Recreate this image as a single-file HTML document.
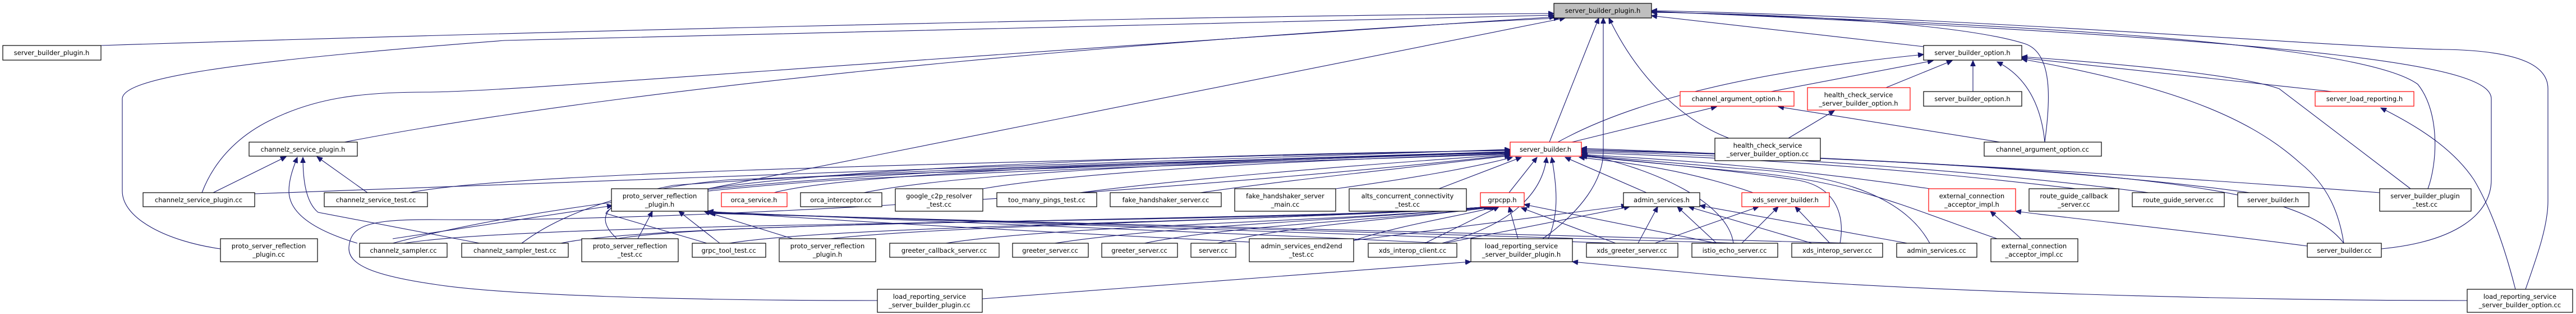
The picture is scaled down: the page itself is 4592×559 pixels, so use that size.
<!DOCTYPE html>
<html><head><meta charset="utf-8">
<style>
html,body{margin:0;padding:0;background:#fff;}
svg{display:block;}
text{font-family:"DejaVu Sans","Liberation Sans",sans-serif;font-size:11.5px;fill:#000;text-anchor:middle;}
.e{fill:none;stroke:#191970;stroke-width:1.1;marker-end:url(#a);}
.n{fill:#fff;stroke:#000;stroke-width:1.2;}
.r{fill:#fff;stroke:#ff0000;stroke-width:1.2;}
</style></head><body>
<svg width="4592" height="559" viewBox="0 0 4592 559" xmlns="http://www.w3.org/2000/svg">
<defs><marker id="a" markerUnits="userSpaceOnUse" markerWidth="11" markerHeight="9" refX="10" refY="4.5" orient="auto"><path d="M0,0 L10,4.5 L0,9 z" fill="#191970" stroke="#191970"/></marker></defs>

<!-- edges to root -->
<path class="e" d="M180,81 C800,61 2000,29 2770,24"/>
<path class="e" d="M393,443 C300,430 218,390 218,340 L218,176 C218,140 400,110 900,72 L2770,27"/>
<path class="e" d="M360,343 C380,290 420,245 480,215 C560,175 640,164 760,164 C900,164 1400,120 2772,30"/>
<path class="e" d="M614,253 C1200,140 2200,60 2780,32"/>
<path class="e" d="M1262,336 L2790,32"/>
<path class="e" d="M2762,253 L2850,32"/>
<path class="e" d="M2750,425 C2820,375 2858,320 2858,270 L2858,32"/>
<path class="e" d="M3429,83 L2944,28"/>
<path class="e" d="M3082,246 C3000,215 2920,140 2868,32"/>
<path class="e" d="M3645,253 C3655,180 3660,95 3610,78 C3500,43 3200,25 2944,22"/>
<path class="e" d="M4328,336 C4345,290 4350,200 4310,150 C4200,70 3500,40 2944,21"/>
<path class="e" d="M4245,443 C4380,430 4441,380 4441,320 L4441,176 C4441,120 4200,75 2944,20"/>
<path class="e" d="M4502,515 C4525,450 4542,400 4542,358 L4542,158 C4542,120 4500,90 4355,88 C4200,86 3500,30 2944,19"/>

<!-- edges to server_builder_option.h -->
<path class="e" d="M2777,253 C2900,185 3100,130 3429,97"/>
<path class="e" d="M3157,163 L3446,108"/>
<path class="e" d="M3362,156 L3480,108"/>
<path class="e" d="M3517,163 L3517,108"/>
<path class="e" d="M3645,253 C3640,200 3620,140 3560,110"/>
<path class="e" d="M4297,336 L4063,158 C4000,135 3800,115 3604,101"/>
<path class="e" d="M4157,163 L3604,103"/>
<path class="e" d="M4178,433 C4170,380 4150,330 4100,290 C4000,200 3850,150 3604,105"/>

<!-- others upper -->
<path class="e" d="M2802,253 L3060,190"/>
<path class="e" d="M3565,253 L3170,190"/>
<path class="e" d="M3188,246 L3270,197"/>
<path class="e" d="M4484,515 C4465,440 4440,370 4410,320 C4370,260 4300,220 4244,192"/>
<path class="e" d="M1751,532 L2622,466"/>
<path class="e" d="M4398,535 C4000,535 3400,520 3040,488 L2803,466"/>
<path class="e" d="M1564,535 C1200,535 900,525 780,507 C660,490 620,470 622,440 C625,400 660,390 780,391 C1300,395 2200,330 2692,276"/>

<!-- channelz_service_plugin.h -->
<path class="e" d="M380,343 L510,279"/>
<path class="e" d="M655,343 L565,279"/>
<path class="e" d="M637,433 C560,410 515,380 515,340 C515,320 522,300 530,280"/>
<path class="e" d="M855,433 L567,378 C545,360 540,320 540,280"/>

<!-- row1 -> server_builder.h -->
<path class="e" d="M454,345 C1000,320 2000,290 2692,266"/>
<path class="e" d="M730,343 C900,310 1500,295 2692,267"/>
<path class="e" d="M1262,336 C1500,300 2100,275 2692,268"/>
<path class="e" d="M1380,343 C1500,310 2000,290 2692,270"/>
<path class="e" d="M1540,343 C1700,310 2100,290 2692,271"/>
<path class="e" d="M1752,336 C1900,310 2200,290 2692,273"/>
<path class="e" d="M1925,343 C2100,320 2400,295 2692,275"/>
<path class="e" d="M2140,343 C2300,320 2500,300 2692,277"/>
<path class="e" d="M2381,336 C2500,320 2620,300 2696,280"/>
<path class="e" d="M2565,336 L2712,280"/>
<path class="e" d="M2690,343 L2740,280"/>
<path class="e" d="M2935,343 L2790,280"/>
<path class="e" d="M3125,343 C3000,300 2900,290 2815,280"/>
<path class="e" d="M3440,336 C3200,300 3000,285 2819,275"/>
<path class="e" d="M3700,336 C3400,300 3100,280 2819,272"/>
<path class="e" d="M3830,343 C3500,300 3100,275 2819,270"/>
<path class="e" d="M4010,343 C3700,300 3200,275 2819,268"/>
<path class="e" d="M4242,343 C3800,310 3300,280 2819,266"/>
<path class="e" d="M4178,433 C4100,330 3800,300 2819,264"/>

<!-- row2 -> server_builder.h -->
<path class="e" d="M700,433 C900,380 1200,340 1500,320 C2000,295 2400,285 2692,274"/>
<path class="e" d="M930,433 C1000,380 1100,350 1200,330 C1600,300 2200,285 2692,272"/>
<path class="e" d="M1100,425 C1050,380 1080,340 1300,320 C1800,300 2300,285 2692,271"/>
<path class="e" d="M1260,433 L1080,380 C1090,350 1300,325 1800,300 L2692,270"/>
<path class="e" d="M2570,433 C2700,400 2750,340 2757,280"/>
<path class="e" d="M2760,425 C2780,380 2775,330 2766,280"/>
<path class="e" d="M3090,433 C3080,360 2950,300 2820,274"/>
<path class="e" d="M3280,433 C3290,380 3270,330 3200,320 C3100,305 2950,290 2819,277"/>
<path class="e" d="M3440,433 C3400,360 3300,310 3100,300 L2819,276"/>
<path class="e" d="M3560,425 C3400,370 3300,320 3100,305 L2819,278"/>

<!-- row2 -> grpcpp.h -->
<path class="e" d="M720,433 C1000,390 2300,400 2655,368"/>
<path class="e" d="M1000,433 C1200,390 2300,395 2655,368"/>
<path class="e" d="M1100,425 C1300,390 2300,395 2655,368"/>
<path class="e" d="M1300,433 C1500,400 2300,395 2655,368"/>
<path class="e" d="M1480,425 C1700,400 2300,392 2658,368"/>
<path class="e" d="M1686,433 C1900,400 2400,395 2660,368"/>
<path class="e" d="M1880,433 C2100,400 2450,390 2662,368"/>
<path class="e" d="M2040,433 C2200,400 2500,390 2664,368"/>
<path class="e" d="M2170,433 C2300,400 2550,385 2666,368"/>
<path class="e" d="M2413,428 C2500,400 2600,385 2668,368"/>
<path class="e" d="M2540,433 L2672,368"/>
<path class="e" d="M2706,425 L2690,368"/>
<path class="e" d="M2880,433 L2712,370"/>
<path class="e" d="M3060,433 L2717,364"/>

<!-- row2 -> prsp.h mid -->
<path class="e" d="M700,425 L1092,366"/>
<path class="e" d="M1137,425 L1163,376"/>
<path class="e" d="M1283,433 L1210,376"/>
<path class="e" d="M1413,425 L1255,376"/>
<path class="e" d="M2413,440 C2000,420 1500,395 1262,376"/>
<path class="e" d="M2570,433 C2100,410 1600,390 1262,377"/>
<path class="e" d="M2880,433 C2200,405 1600,390 1262,378"/>
<path class="e" d="M3100,433 C2300,405 1600,392 1262,379"/>
<path class="e" d="M3300,433 C2400,405 1600,395 1265,380"/>

<!-- admin_services.h -->
<path class="e" d="M2413,428 L2900,366"/>
<path class="e" d="M2575,433 L2905,368"/>
<path class="e" d="M2920,433 L2955,368"/>
<path class="e" d="M3060,433 L2990,368"/>
<path class="e" d="M3230,433 L3010,368"/>
<path class="e" d="M3400,433 L3030,366"/>
<!-- xds_server_builder.h -->
<path class="e" d="M2950,433 L3135,368"/>
<path class="e" d="M3105,433 L3170,368"/>
<path class="e" d="M3262,433 L3200,368"/>
<!-- external_connection_acceptor_impl.h -->
<path class="e" d="M3603,425 L3548,376"/>
<path class="e" d="M4113,438 C3900,410 3700,390 3593,376"/>

<!-- nodes -->
<rect class="n" x="2770" y="6" width="174" height="26" style="fill:#bfbfbf"/><text x="2857" y="23">server_builder_plugin.h</text>
<rect class="n" x="5" y="81" width="175" height="26"/><text x="92" y="98">server_builder_plugin.h</text>
<rect class="n" x="444" y="253" width="193" height="25"/><text x="540" y="270">channelz_service_plugin.h</text>
<rect class="n" x="255" y="343" width="199" height="25"/><text x="354" y="360">channelz_service_plugin.cc</text>
<rect class="n" x="578" y="343" width="184" height="25"/><text x="670" y="360">channelz_service_test.cc</text>
<rect class="n" x="393" y="425" width="173" height="41"/><text x="479" y="442">proto_server_reflection</text><text x="479" y="457">_plugin.cc</text>
<rect class="n" x="641" y="433" width="156" height="25"/><text x="719" y="450">channelz_sampler.cc</text>
<rect class="n" x="823" y="433" width="190" height="25"/><text x="918" y="450">channelz_sampler_test.cc</text>
<rect class="n" x="1037" y="425" width="172" height="41"/><text x="1123" y="442">proto_server_reflection</text><text x="1123" y="457">_test.cc</text>
<rect class="n" x="1234" y="433" width="131" height="25"/><text x="1299" y="450">grpc_tool_test.cc</text>
<rect class="n" x="1389" y="425" width="172" height="41"/><text x="1475" y="442">proto_server_reflection</text><text x="1475" y="457">_plugin.h</text>
<rect class="n" x="1090" y="336" width="172" height="40"/><text x="1176" y="353">proto_server_reflection</text><text x="1176" y="368">_plugin.h</text>
<rect class="r" x="1286" y="343" width="117" height="25"/><text x="1344" y="360">orca_service.h</text>
<rect class="n" x="1427" y="343" width="145" height="25"/><text x="1499" y="360">orca_interceptor.cc</text>
<rect class="n" x="1596" y="336" width="156" height="40"/><text x="1674" y="353">google_c2p_resolver</text><text x="1674" y="368">_test.cc</text>
<rect class="n" x="1777" y="343" width="178" height="25"/><text x="1866" y="360">too_many_pings_test.cc</text>
<rect class="n" x="1979" y="343" width="198" height="25"/><text x="2078" y="360">fake_handshaker_server.cc</text>
<rect class="n" x="2201" y="336" width="180" height="40"/><text x="2291" y="353">fake_handshaker_server</text><text x="2291" y="368">_main.cc</text>
<rect class="n" x="1586" y="433" width="195" height="25"/><text x="1683" y="450">greeter_callback_server.cc</text>
<rect class="n" x="1805" y="433" width="135" height="25"/><text x="1872" y="450">greeter_server.cc</text>
<rect class="n" x="1964" y="433" width="135" height="25"/><text x="2031" y="450">greeter_server.cc</text>
<rect class="n" x="2123" y="433" width="80" height="25"/><text x="2163" y="450">server.cc</text>
<rect class="n" x="2227" y="425" width="186" height="41"/><text x="2320" y="442">admin_services_end2end</text><text x="2320" y="457">_test.cc</text>
<rect class="n" x="1564" y="515" width="187" height="41"/><text x="1657" y="532">load_reporting_service</text><text x="1657" y="547">_server_builder_plugin.cc</text>
<rect class="r" x="2692" y="253" width="127" height="25"/><text x="2755" y="270">server_builder.h</text>
<rect class="n" x="2405" y="336" width="209" height="40"/><text x="2509" y="353">alts_concurrent_connectivity</text><text x="2509" y="368">_test.cc</text>
<rect class="r" x="2639" y="343" width="78" height="25"/><text x="2678" y="360">grpcpp.h</text>
<rect class="n" x="2894" y="343" width="136" height="25"/><text x="2962" y="360">admin_services.h</text>
<rect class="n" x="2439" y="433" width="158" height="25"/><text x="2518" y="450">xds_interop_client.cc</text>
<rect class="n" x="2622" y="425" width="181" height="41"/><text x="2712" y="442">load_reporting_service</text><text x="2712" y="457">_server_builder_plugin.h</text>
<rect class="n" x="2828" y="433" width="163" height="25"/><text x="2909" y="450">xds_greeter_server.cc</text>
<rect class="n" x="3016" y="433" width="153" height="25"/><text x="3092" y="450">istio_echo_server.cc</text>
<rect class="r" x="2995" y="163" width="203" height="26"/><text x="3096" y="180">channel_argument_option.h</text>
<rect class="n" x="3429" y="81" width="175" height="26"/><text x="3516" y="98">server_builder_option.h</text>
<rect class="r" x="3222" y="156" width="183" height="40"/><text x="3313" y="173">health_check_service</text><text x="3313" y="188">_server_builder_option.h</text>
<rect class="n" x="3429" y="163" width="175" height="26"/><text x="3516" y="180">server_builder_option.h</text>
<rect class="n" x="3057" y="246" width="188" height="40"/><text x="3151" y="263">health_check_service</text><text x="3151" y="278">_server_builder_option.cc</text>
<rect class="n" x="3537" y="253" width="209" height="25"/><text x="3641" y="270">channel_argument_option.cc</text>
<rect class="r" x="3105" y="343" width="156" height="25"/><text x="3183" y="360">xds_server_builder.h</text>
<rect class="r" x="3438" y="336" width="155" height="40"/><text x="3515" y="353">external_connection</text><text x="3515" y="368">_acceptor_impl.h</text>
<rect class="n" x="3617" y="336" width="160" height="40"/><text x="3697" y="353">route_guide_callback</text><text x="3697" y="368">_server.cc</text>
<rect class="n" x="3194" y="433" width="162" height="25"/><text x="3275" y="450">xds_interop_server.cc</text>
<rect class="n" x="3381" y="433" width="143" height="25"/><text x="3452" y="450">admin_services.cc</text>
<rect class="n" x="3549" y="425" width="155" height="41"/><text x="3626" y="442">external_connection</text><text x="3626" y="457">_acceptor_impl.cc</text>
<rect class="n" x="3801" y="343" width="164" height="25"/><text x="3883" y="360">route_guide_server.cc</text>
<rect class="n" x="3989" y="343" width="127" height="25"/><text x="4052" y="360">server_builder.h</text>
<rect class="n" x="4242" y="336" width="163" height="40"/><text x="4323" y="353">server_builder_plugin</text><text x="4323" y="368">_test.cc</text>
<rect class="r" x="4127" y="163" width="176" height="26"/><text x="4215" y="180">server_load_reporting.h</text>
<rect class="n" x="4113" y="433" width="132" height="25"/><text x="4179" y="450">server_builder.cc</text>
<rect class="n" x="4398" y="515" width="188" height="41"/><text x="4492" y="532">load_reporting_service</text><text x="4492" y="547">_server_builder_option.cc</text>
</svg>
</body></html>
